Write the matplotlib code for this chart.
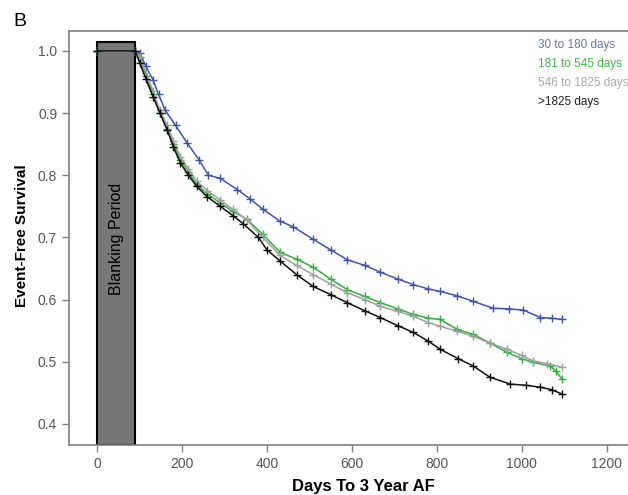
import matplotlib
matplotlib.use("Agg")
import matplotlib.pyplot as plt
from matplotlib.patches import Rectangle

plt.rcParams["font.family"] = ["Liberation Sans", "DejaVu Sans"]

# Kaplan-Meier curves (days, survival)
blue_x = [0, 90, 101, 115, 132, 145, 160, 185, 212, 240, 262, 290, 330, 360, 391,
          431, 462, 509, 550, 589, 630, 667, 708, 745, 780, 808, 848, 886, 933,
          970, 1004, 1044, 1070, 1095]
blue_y = [1.0, 1.0, 0.997, 0.975, 0.953, 0.93, 0.905, 0.88, 0.852, 0.825, 0.80,
          0.795, 0.777, 0.762, 0.745, 0.726, 0.717, 0.697, 0.680, 0.664, 0.655,
          0.644, 0.633, 0.624, 0.617, 0.613, 0.606, 0.597, 0.586, 0.585, 0.583,
          0.571, 0.570, 0.568]

green_x = [0, 90, 101, 115, 132, 148, 165, 180, 196, 215, 235, 260, 290, 320, 353,
           390, 431, 470, 509, 550, 589, 630, 667, 708, 745, 780, 808, 848, 886,
           925, 965, 1000, 1027, 1067, 1080, 1095]
green_y = [1.0, 1.0, 0.99, 0.96, 0.93, 0.90, 0.875, 0.85, 0.825, 0.805, 0.785,
           0.77, 0.755, 0.742, 0.729, 0.705, 0.676, 0.665, 0.652, 0.633, 0.616,
           0.605, 0.595, 0.585, 0.576, 0.570, 0.568, 0.552, 0.544, 0.530, 0.515,
           0.505, 0.499, 0.493, 0.485, 0.472]

gray_x = [0, 90, 101, 115, 132, 148, 165, 180, 196, 215, 235, 260, 290, 320, 353,
          390, 431, 470, 509, 550, 589, 630, 667, 708, 745, 780, 808, 848, 886,
          925, 965, 1000, 1027, 1060, 1095]
gray_y = [1.0, 1.0, 0.99, 0.965, 0.935, 0.905, 0.88, 0.855, 0.83, 0.81, 0.79,
          0.775, 0.76, 0.745, 0.728, 0.70, 0.671, 0.655, 0.640, 0.625, 0.611,
          0.60, 0.589, 0.581, 0.573, 0.563, 0.557, 0.549, 0.541, 0.53, 0.520,
          0.51, 0.501, 0.497, 0.491]

black_x = [0, 90, 101, 115, 132, 148, 165, 180, 196, 215, 235, 260, 290, 320, 344,
           380, 400, 431, 470, 509, 550, 589, 630, 667, 708, 745, 780, 808, 850,
           886, 925, 973, 1010, 1044, 1070, 1095]
black_y = [1.0, 1.0, 0.98, 0.955, 0.926, 0.90, 0.873, 0.845, 0.82, 0.80, 0.782,
           0.765, 0.75, 0.735, 0.722, 0.70, 0.68, 0.662, 0.64, 0.621, 0.608, 0.595,
           0.582, 0.571, 0.558, 0.547, 0.533, 0.520, 0.505, 0.493, 0.475, 0.464,
           0.462, 0.459, 0.455, 0.448]

labels = ["30 to 180 days", "181 to 545 days", "546 to 1825 days", ">1825 days"]
line_colors = ["#3f55b5", "#2fb33a", "#a0a0a0", "#111111"]
text_colors = ["#6677bb", "#44bb44", "#aaaaaa", "#222222"]

fig = plt.figure(figsize=(6.28, 4.95), dpi=100)
ax = fig.add_axes([69 / 628, 50 / 495, 570 / 628, 414 / 495])

ax.add_patch(Rectangle((0, 0.366), 90, 1.015 - 0.366, facecolor="#777777",
                       edgecolor="black", linewidth=1.5, zorder=1))
ax.text(46, 0.697, "Blanking Period", rotation=90, ha="center", va="center",
        fontsize=11.5, color="black", zorder=2)

series = [(blue_x, blue_y), (green_x, green_y), (gray_x, gray_y), (black_x, black_y)]
for (xs, ys), c in zip(series, line_colors):
    ax.plot(xs, ys, color=c, linewidth=1.1,
            marker="+", markersize=6, markeredgewidth=1.0, zorder=3)

for i, (lab, c) in enumerate(zip(labels, text_colors)):
    ax.text(0.823, 0.966 - i * 0.046, lab, transform=ax.transAxes, color=c,
            fontsize=8.5, ha="left", va="center")

ax.set_xlim(-66, 1276)
ax.set_ylim(0.366, 1.032)
ax.set_xticks([0, 200, 400, 600, 800, 1000, 1200])
ax.set_yticks([0.4, 0.5, 0.6, 0.7, 0.8, 0.9, 1.0])
ax.set_yticklabels(["0.4", "0.5", "0.6", "0.7", "0.8", "0.9", "1.0"])
ax.spines["right"].set_visible(False)
for s in ax.spines.values():
    s.set_color("#808080")
    s.set_linewidth(1.2)
ax.tick_params(direction="out", length=5, width=1, color="#808080",
               labelcolor="#555555", labelsize=10)

fig.text(363 / 628, 1 - 491 / 495, "Days To 3 Year AF", fontsize=12,
         fontweight="bold", ha="center", va="baseline")
ax.set_ylabel("Event-Free Survival", fontsize=11, fontweight="bold", labelpad=8)
ax.yaxis.set_label_coords(-0.07, (445 - 236) / 414)
fig.text(13 / 628, 1 - 21 / 495, "B", fontsize=14, va="center", ha="left")

fig.savefig("out.png", dpi=100)
